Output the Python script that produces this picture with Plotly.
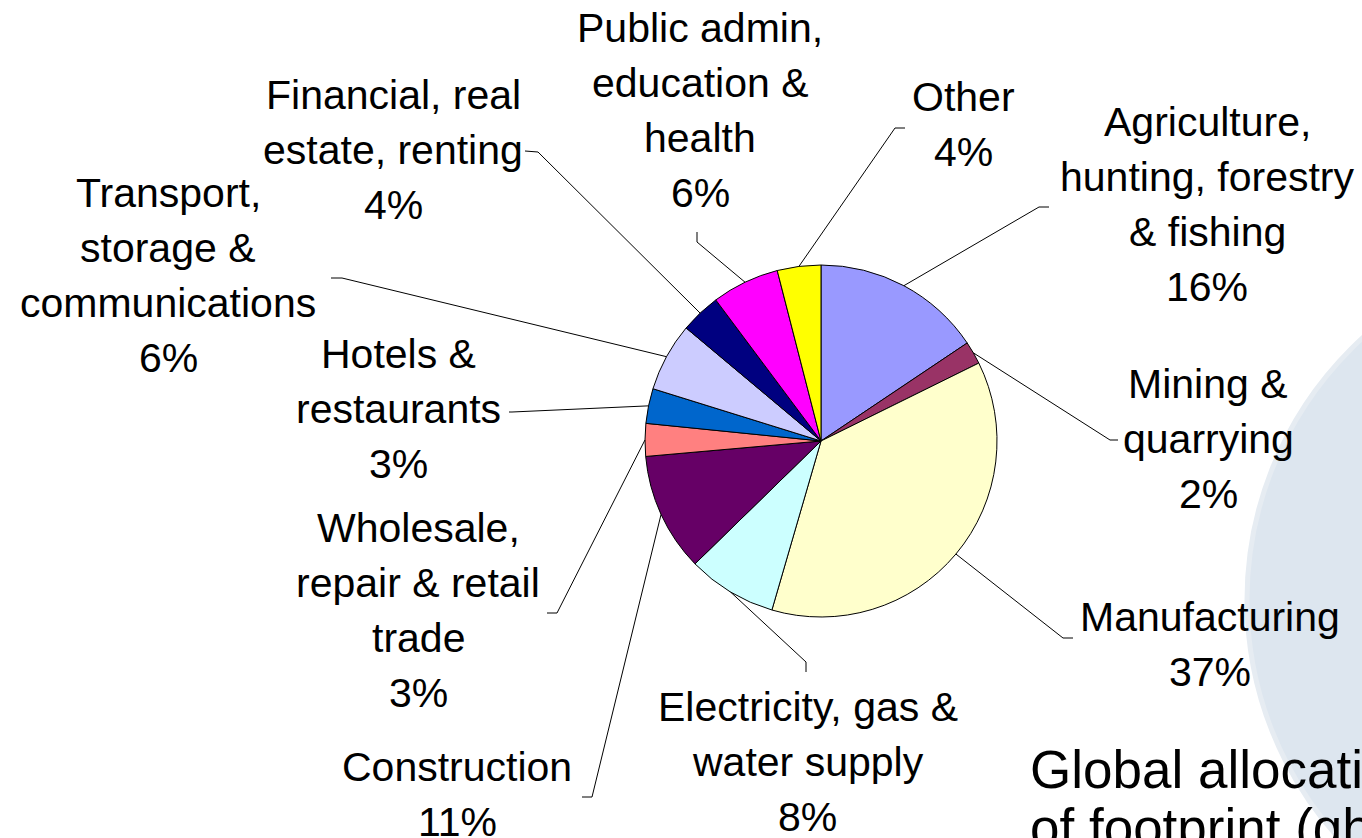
import math
import plotly.graph_objects as go

# ---------------- data ----------------
categories = [
    "Agriculture,\nhunting, forestry\n& fishing",
    "Mining &\nquarrying",
    "Manufacturing",
    "Electricity, gas &\nwater supply",
    "Construction",
    "Wholesale,\nrepair & retail\ntrade",
    "Hotels &\nrestaurants",
    "Transport,\nstorage &\ncommunications",
    "Financial, real\nestate, renting",
    "Public admin,\neducation &\nhealth",
    "Other",
]
values = [15.6, 2.1, 36.8, 8.2, 10.9, 3.0, 3.2, 6.3, 3.7, 6.2, 4.0]
colors = ["#9999FF", "#993366", "#FFFFCC", "#CCFFFF", "#660066", "#FF8080",
          "#0066CC", "#CCCCFF", "#000080", "#FF00FF", "#FFFF00"]
title_lines = ["Global allocation", "of footprint (gha)"]

# ---------------- layout constants ----------------
W, H = 1362, 838
CX, CY, R = 821, 441, 176
LINE_H = 55
FONT = "Liberation Sans, Arial, sans-serif"

label_pos = [  # x centre, first-line centre y (pixels)
    (1207, 122), (1208, 384), (1210, 617), (808, 707), (457, 767),
    (418, 528), (398, 354), (168, 193), (393, 95), (700, 28), (963, 97),
]
leader_pts = [  # elbow, end (pixels)
    ((1039, 207), (1049, 207)),
    ((1110, 440), (1118, 440)),
    ((1063, 638), (1073, 638)),
    ((806, 662), (806, 672)),
    ((592, 797), (582, 797)),
    ((557, 613), (547, 613)),
    ((512, 412), (509, 412)),
    ((342, 278), (331, 278)),
    ((538, 152), (525, 151)),
    ((697, 242), (697, 232)),
    ((895, 128), (905, 128)),
]


def px(x):
    return x / W


def py(y):
    return 1 - y / H


fig = go.Figure()
fig.add_trace(go.Pie(
    labels=[c.replace("\n", " ") for c in categories],
    values=values,
    sort=False,
    direction="clockwise",
    rotation=0,
    marker=dict(colors=colors, line=dict(color="#000000", width=1)),
    textinfo="none",
    hoverinfo="skip",
    showlegend=False,
    domain=dict(x=[px(CX - R), px(CX + R)], y=[py(CY + R), py(CY - R)]),
))

shapes = []
# background decorative circle
bx, by, br = 1602, 600, 355
shapes.append(dict(type="circle", xref="paper", yref="paper", layer="below",
                   x0=px(bx - br), x1=px(bx + br), y0=py(by + br), y1=py(by - br),
                   fillcolor="#DDE6EF", line=dict(color="#E6ECF2", width=5)))

annotations = []
total = sum(values)
cum = 0.0
for i, (cat, v) in enumerate(zip(categories, values)):
    mid = (cum + v / 2) / total
    cum += v
    ang = 2 * math.pi * mid
    sx = CX + R * math.sin(ang)
    sy = CY - R * math.cos(ang)
    (ex1, ey1), (ex2, ey2) = leader_pts[i]
    path = (f"M {px(sx)},{py(sy)} L {px(ex1)},{py(ey1)} L {px(ex2)},{py(ey2)}")
    shapes.append(dict(type="path", xref="paper", yref="paper", path=path,
                       line=dict(color="#000000", width=1)))
    lines = cat.split("\n") + [f"{round(v / total * 100)}%"]
    lx, ly = label_pos[i]
    for k, t in enumerate(lines):
        annotations.append(dict(
            x=px(lx), y=py(ly + k * LINE_H), xref="paper", yref="paper",
            text=t, showarrow=False, xanchor="center", yanchor="middle",
            font=dict(family=FONT, size=41, color="#000000")))

for k, t in enumerate(title_lines):
    annotations.append(dict(
        x=px(1028), y=py(769 + k * 58), xref="paper", yref="paper",
        text=t, showarrow=False, xanchor="left", yanchor="middle",
        font=dict(family=FONT, size=53, color="#000000")))

fig.update_layout(
    width=W, height=H,
    margin=dict(l=0, r=0, t=0, b=0),
    paper_bgcolor="#FFFFFF", plot_bgcolor="#FFFFFF",
    shapes=shapes, annotations=annotations,
)
fig.write_html("out.html", config={"displayModeBar": False},
               post_script="document.body.style.margin='0';document.body.style.overflow='hidden';")
